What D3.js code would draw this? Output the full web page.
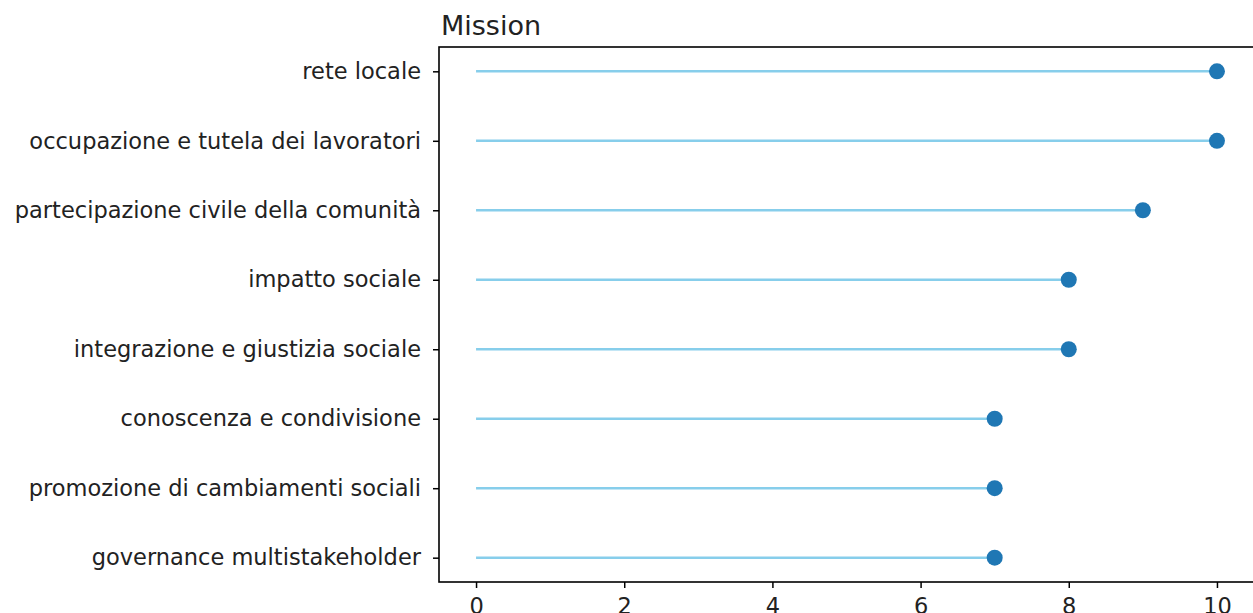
<!DOCTYPE html>
<html><head><meta charset="utf-8">
<script src="https://cdn.jsdelivr.net/npm/d3@7"></script>
<style>body{margin:0;background:#fff;} svg{display:block;font-family:"DejaVu Sans",sans-serif;}</style>
</head><body>
<svg id="c" width="1253" height="613"></svg>
<script>
const categories = ["governance multistakeholder","promozione di cambiamenti sociali","conoscenza e condivisione","integrazione e giustizia sociale","impatto sociale","partecipazione civile della comunità","occupazione e tutela dei lavoratori","rete locale"];
const values = [7,7,7,8,8,9,10,10];
const xTicks = [0,2,4,6,8,10];
const title = "Mission";

const svg = d3.select("#c");
const L = 439, R = 1254, T = 47, B = 582;
const x = d3.scaleLinear().domain([-0.5,10.5]).range([L,R]);
const y = d3.scaleLinear().domain([-0.35,7.35]).range([B,T]);

const g = svg.append("g");
g.selectAll("line.stem").data(values).enter().append("line")
  .attr("x1", x(0)).attr("x2", d=>x(d))
  .attr("y1", (d,i)=>y(i)).attr("y2",(d,i)=>y(i))
  .attr("stroke","#87ceeb").attr("stroke-width",2.6);
g.selectAll("circle").data(values).enter().append("circle")
  .attr("cx", d=>x(d)).attr("cy",(d,i)=>y(i)).attr("r",8)
  .attr("fill","#1f77b4");

const xa = svg.append("g").attr("transform",`translate(0,${B})`)
  .call(d3.axisBottom(x).tickValues(xTicks).tickSize(6).tickPadding(10).tickFormat(d3.format("d")));
const ya = svg.append("g").attr("transform",`translate(${L},0)`)
  .call(d3.axisLeft(y).tickValues(d3.range(categories.length)).tickSize(6).tickPadding(12).tickFormat(i=>categories[i]));
[xa,ya].forEach(a=>{
  a.select(".domain").remove();
  a.selectAll("line").attr("stroke","#000").attr("stroke-width",1.5);
  a.selectAll("text").attr("font-size","22.5px").attr("fill","#222").attr("font-family","DejaVu Sans");
});
// spines
svg.append("rect").attr("x",L).attr("y",T).attr("width",R-L).attr("height",B-T)
  .attr("fill","none").attr("stroke","#000").attr("stroke-width",1.6);
svg.append("text").attr("x",L+2).attr("y",35).text(title)
  .attr("font-size","27px").attr("fill","#222");
</script>
</body></html>
